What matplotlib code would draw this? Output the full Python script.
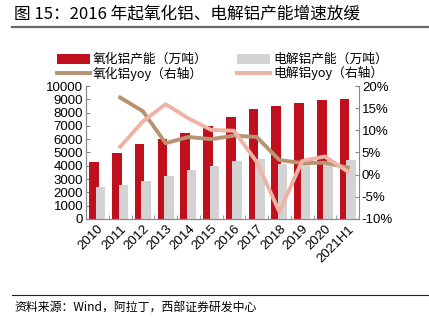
import numpy as np
import matplotlib.pyplot as plt
from matplotlib.ticker import FuncFormatter

plt.rcParams['font.family'] = ['Liberation Sans', 'Noto Sans CJK SC', 'DejaVu Sans']

# ---- data ----
years = ['2010', '2011', '2012', '2013', '2014', '2015', '2016', '2017',
         '2018', '2019', '2020', '2021H1']
alumina_cap = [4250, 4950, 5620, 6050, 6500, 7020, 7640, 8250, 8520, 8700, 8950, 9050]
alu_cap = [2400, 2550, 2830, 3270, 3650, 4000, 4350, 4480, 4120, 4300, 4270, 4430]
alumina_yoy = [np.nan, 17.4, 14.3, 7.1, 8.5, 8.0, 8.8, 8.5, 3.3, 2.6, 2.7, 1.6]
alu_yoy = [np.nan, 6.3, 12.0, 15.9, 12.7, 10.1, 9.9, 2.9, -8.4, 3.1, 4.1, 0.7]

c_red = '#C0101E'
c_gray = '#D3D3D3'
c_brown = '#B79370'
c_pink = '#EFB3A6'
cjk = ['Noto Sans CJK SC', 'Liberation Sans']

fig = plt.figure(figsize=(4.29, 3.27), dpi=100)
ax = fig.add_axes([0.2005, 0.3303, 0.6365, 0.4067])
x = np.arange(len(years))

b1 = ax.bar(x - 0.14, alumina_cap, 0.42, color=c_red, zorder=2)
b2 = ax.bar(x + 0.14, alu_cap, 0.42, color=c_gray, zorder=3)
ax.set_ylim(0, 10000)
ax.set_xlim(-0.5, len(years) - 0.5)
ax.set_yticks(np.arange(0, 10001, 1000))
ax.set_xticks(x)
ax.set_xticklabels(years, rotation=45, ha='right', rotation_mode='anchor', fontsize=9.5)
ax.set_xticks(np.arange(-0.5, len(years)), minor=True)
ax.tick_params(axis='x', which='major', length=0, pad=3)
ax.tick_params(axis='x', which='minor', length=3, direction='in', color='#888888')
ax.tick_params(axis='y', labelsize=9.5, length=3, direction='in', color='#888888', pad=2)

ax2 = ax.twinx()
l1, = ax2.plot(x, alumina_yoy, color=c_brown, lw=2.8, zorder=4)
l2, = ax2.plot(x, alu_yoy, color=c_pink, lw=2.8, zorder=5)
ax2.set_ylim(-10, 20)
ax2.set_yticks(np.arange(-10, 21, 5))
ax2.yaxis.set_major_formatter(FuncFormatter(lambda v, p: '%d%%' % v))
ax2.tick_params(axis='y', labelsize=9.5, length=3, direction='in', color='#888888', pad=2)

for a in (ax, ax2):
    a.spines['top'].set_visible(False)
    for s in ('left', 'right', 'bottom'):
        a.spines[s].set_color('#888888')
        a.spines[s].set_linewidth(0.8)
ax.spines['right'].set_visible(False)

fig.legend([b1, l1, b2, l2],
           ['氧化铝产能（万吨）', '氧化铝yoy（右轴）', '电解铝产能（万吨）', '电解铝yoy（右轴）'],
           ncol=2, loc='upper left', bbox_to_anchor=(0.12, 0.853), frameon=False,
           prop={'family': cjk, 'size': 9.2}, handlelength=2.6, handleheight=0.8,
           handletextpad=0.25, columnspacing=2.3, labelspacing=0.02, borderaxespad=0)

fig.text(0.033, 0.955, '图 15：2016 年起氧化铝、电解铝产能增速放缓', fontsize=12,
         family=cjk, va='center', ha='left')
fig.add_artist(plt.Line2D([0.028, 1.0], [0.918, 0.918], color='#666666', lw=1.6))
fig.add_artist(plt.Line2D([0.028, 1.0], [0.098, 0.098], color='#222222', lw=0.8))
fig.text(0.033, 0.058, '资料来源：Wind，阿拉丁，西部证券研发中心', fontsize=8.6,
         family=cjk, va='center', ha='left')

fig.savefig('out.png', dpi=100)
